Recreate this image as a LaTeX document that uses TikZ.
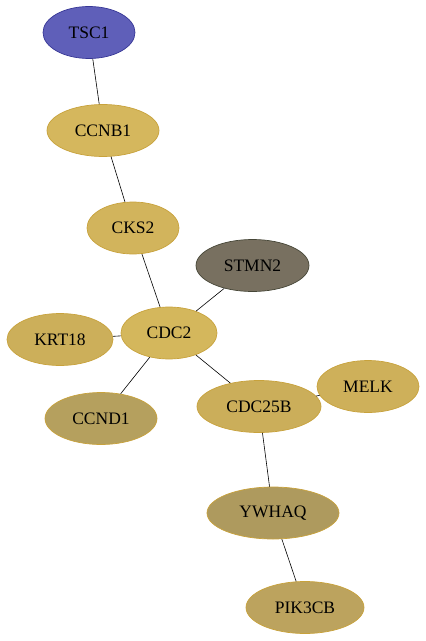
\documentclass[tikz,border=0pt]{standalone}
\usepackage{fontspec}
\setmainfont{Liberation Serif}
\usetikzlibrary{shapes.geometric}
\definecolor{tscfill}{RGB}{95,95,185}
\definecolor{tscline}{RGB}{55,55,150}
\definecolor{goldline}{RGB}{200,162,60}
\definecolor{stmnfill}{RGB}{120,112,96}
\definecolor{stmnline}{RGB}{70,70,55}
\tikzset{
  gene/.style={ellipse, draw=goldline, line width=0.7pt, inner sep=0pt,
    minimum height=52bp, font=\fontsize{17.5bp}{20bp}\selectfont},
  link/.style={black, line width=0.6pt}
}
\begin{document}
\begin{tikzpicture}[x=1bp, y=-1bp]
\useasboundingbox (0,0) rectangle (425,641);
% nodes
\node[gene, fill=tscfill, draw=tscline, minimum width=92bp] (TSC1) at (89,32.5) {TSC1};
\node[gene, fill={rgb,255:red,213;green,183;blue,93}, minimum width=112bp] (CCNB1) at (103,130.5) {CCNB1};
\node[gene, fill={rgb,255:red,210;green,180;blue,92}, minimum width=92bp] (CKS2) at (133,228) {CKS2};
\node[gene, fill=stmnfill, draw=stmnline, minimum width=113bp] (STMN2) at (252.5,265.5) {STMN2};
\node[gene, fill={rgb,255:red,212;green,183;blue,92}, minimum width=96bp] (CDC2) at (169,333) {CDC2};
\node[gene, fill={rgb,255:red,204;green,175;blue,90}, minimum width=106bp] (KRT18) at (60,339.5) {KRT18};
\node[gene, fill={rgb,255:red,181;green,160;blue,94}, minimum width=112bp] (CCND1) at (101,418.5) {CCND1};
\node[gene, fill={rgb,255:red,203;green,174;blue,90}, minimum width=124bp] (CDC25B) at (259,406.5) {CDC25B};
\node[gene, fill={rgb,255:red,206;green,176;blue,90}, minimum width=102bp] (MELK) at (368,386.5) {MELK};
\node[gene, fill={rgb,255:red,174;green,154;blue,94}, minimum width=132bp] (YWHAQ) at (273,513) {YWHAQ};
\node[gene, fill={rgb,255:red,188;green,163;blue,94}, minimum width=118bp] (PIK3CB) at (305,607.5) {PIK3CB};
% links
\draw[link] (TSC1) -- (CCNB1);
\draw[link] (CCNB1) -- (CKS2);
\draw[link] (CKS2) -- (CDC2);
\draw[link] (STMN2) -- (CDC2);
\draw[link] (KRT18) -- (CDC2);
\draw[link] (CDC2) -- (CCND1);
\draw[link] (CDC2) -- (CDC25B);
\draw[link] (CDC25B) -- (MELK);
\draw[link] (CDC25B) -- (YWHAQ);
\draw[link] (YWHAQ) -- (PIK3CB);
\end{tikzpicture}
\end{document}
